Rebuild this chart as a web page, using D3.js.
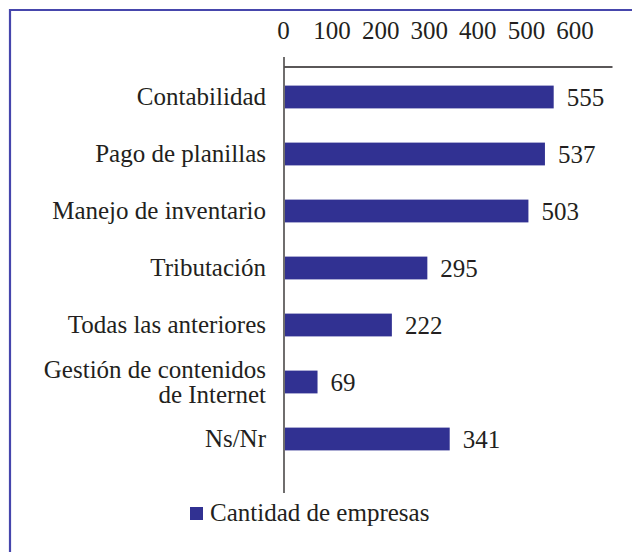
<!DOCTYPE html>
<html>
<head>
<meta charset="utf-8">
<script src="https://cdn.jsdelivr.net/npm/d3@7"></script>
<style>
  body { margin: 0; background: #fff; }
  svg { display: block; }
</style>
</head>
<body>
<svg></svg>
<script>
var categories = ["Contabilidad", "Pago de planillas", "Manejo de inventario", "Tributación",
    "Todas las anteriores", "Gestión de contenidos\nde Internet", "Ns/Nr"];
var values = [555, 537, 503, 295, 222, 69, 341];
var tickValues = [0, 100, 200, 300, 400, 500, 600];
var seriesName = "Cantidad de empresas";

var width = 632,
    height = 552;

var serif = "Liberation Serif, Noto Serif, DejaVu Serif, Tinos, FreeSerif, Nimbus Roman, Times New Roman, Times, Georgia, serif";
var fontSize = 25;

var svg = d3.select("svg")
    .attr("width", width)
    .attr("height", height)
    .style("font-family", serif)
    .style("font-size", fontSize + "px");

// frame: only top and left edges fall inside the picture
svg.append("path")
    .attr("d", "M10," + height + "V10H" + width)
    .attr("fill", "none")
    .attr("stroke", "#4646ac")
    .attr("stroke-width", 2.2);

var x = d3.scaleLinear()
    .domain([0, 675])
    .range([284, 612]);

var y = d3.scaleBand()
    .domain(categories)
    .range([68.5, 467.5])
    .paddingInner(0.6)
    .paddingOuter(0.3);

// top axis: labels well above the line
var axis = svg.append("g")
    .attr("transform", "translate(0,66.5)")
    .call(d3.axisTop(x).tickValues(tickValues).tickSize(0).tickPadding(28));
axis.attr("font-family", null).attr("font-size", null);
axis.select(".domain").attr("stroke", "#231f20").attr("stroke-width", 1.3);
axis.selectAll(".tick text").attr("fill", "#231f20").attr("dx", -1);

// vertical category line
svg.append("line")
    .attr("x1", x(0)).attr("x2", x(0))
    .attr("y1", 57).attr("y2", 493)
    .attr("stroke", "#231f20")
    .attr("stroke-width", 1.3);

var rows = svg.selectAll(".row")
    .data(categories)
    .enter().append("g")
    .attr("class", "row");

rows.append("rect")
    .attr("x", x(0) + 1)
    .attr("y", function(d) { return y(d); })
    .attr("width", function(d, i) { return x(values[i]) - x(0) - 1; })
    .attr("height", y.bandwidth())
    .attr("fill", "#313192");

rows.append("text")
    .attr("fill", "#231f20")
    .attr("x", function(d, i) { return x(values[i]) + 13; })
    .attr("y", function(d) { return y(d) + y.bandwidth() / 2 + 9; })
    .text(function(d, i) { return values[i]; });

rows.append("text")
    .attr("fill", "#231f20")
    .attr("text-anchor", "end")
    .each(function(d) {
        var lines = d.split("\n");
        var cy = y(d) + y.bandwidth() / 2;
        var t = d3.select(this);
        lines.forEach(function(s, k) {
            t.append("tspan")
                .attr("x", 266)
                .attr("y", cy + 8 + (k - (lines.length - 1) / 2) * 25)
                .text(s);
        });
    });

// legend
var legend = svg.append("g").attr("transform", "translate(190,507)");
legend.append("rect")
    .attr("width", 13).attr("height", 13)
    .attr("fill", "#313192");
legend.append("text")
    .attr("fill", "#231f20")
    .attr("x", 20)
    .attr("y", 14)
    .text(seriesName);
</script>
</body>
</html>
